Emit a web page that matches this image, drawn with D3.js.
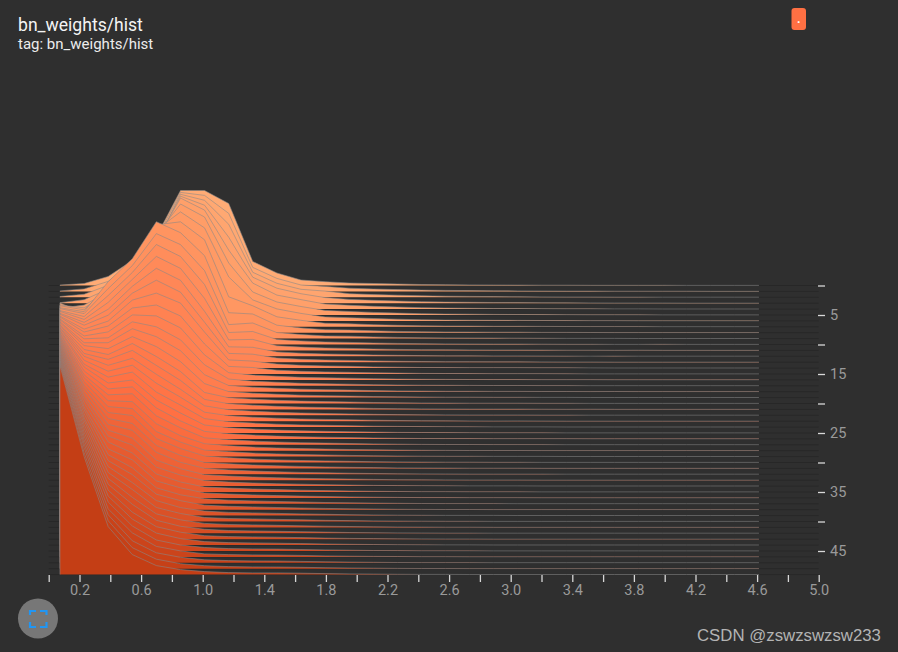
<!DOCTYPE html>
<html><head><meta charset="utf-8">
<script src="https://cdn.jsdelivr.net/npm/d3@7"></script>
<style>html,body{margin:0;padding:0;background:#2f2f2f;overflow:hidden}svg{display:block}</style>
</head><body><svg id="c" width="898" height="652"></svg>
<script>
const titleText="bn_weights/hist";
const tagText="tag: bn_weights/hist";
const markText="CSDN @zswzswzsw233";
const steps=d3.range(0,50);
const xTicks=[0,0.2,0.4,0.6,0.8,1,1.2,1.4,1.6,1.8,2,2.2,2.4,2.6,2.8,3,3.2,3.4,3.6,3.8,4,4.2,4.4,4.6,4.8,5];
const stepTicks=[0,5,10,15,20,25,30,35,40,45];
const binCenters=[.073,.230,.386,.543,.699,.856,1.012,1.169,1.325,1.482,1.638,1.795,1.951,2.108,2.264,2.421,2.577,2.734,2.890,3.047,3.203,3.360,3.516,3.673,3.829,3.986,4.142,4.299,4.455,4.612];
// counts per bin, one value per step (step 0 ... step 49)
const bin00=[.5,.5,.8,.5,1,12,16,21,25,30,34,39,43,48,52,57,61,66,70,75,79,84,88,93,97,102,106,111,115,120,124,129,133,138,142,147,151,156,160,165,169,174,178,183,187,192,196,201,205,209];
const bin01=[2,2.5,3,3.5,4,2,13,17,21,25,28,31,34,37,39,42,44,47,49,52,54,56,59,61,63,66,68,70,73,75,77,80,82,84,87,89,91,94,96,98,101,103,105,107,109,111,113,115,116,118];
const bin02=[9,10,12,14,17,20,28,40,51,50,49,48,47,47,47,48,48,48,49,49,49,50,50,50,50,50,50,50,50,50,50,50,50,50,50,50,49,49,49,49,49,49,49,49,49,49,48,48,48,48];
const bin03=[25,27,30,33,38,44,54,65,74,73,72,71,70,69,68,66,65,64,63,61,60,59,57,56,55,53,52,51,49,48,47,45,44,42,41,39,38,36,35,33,32,30,29,27,26,25,24,22,21,20];
const bin04=[49,52,54,60,69,80,91,102,111,105,100,94,88,82,75,69,64,59,55,51,47,44,41,38,35,33,31,29,27,25,24,23,22,20,19,18,17,16,15.5,15,14,13.5,13,12.5,12,11,10.5,10,9.5,9];
const bin05=[95,99,103,107,111,111,109,105,100,94,88,82,76,70,65,58,52,46,41,36,32,29,26,24,22,20,18,17,15,14.5,14,13,12,11.5,11,10,10,9,9,8,8,7.5,7,7,6.5,6,6,5.5,5,5];
const bin06=[95,96,97,98,99,98,93,87,77,68,60,52,45,40,36,30,25,21,17,14,11,10,9.5,9,8.5,8,7.5,7,7,6.5,6.5,6,6,5.5,5.5,5,5,5,4.5,4.5,4,4,4,3.5,3.5,3.5,3,3,3,3];
const bin07=[82,78,73,66,59,52,44,30,20,14,12,10.5,9.5,8.8,8.2,7.6,7.2,6.8,6.2,6,5.8,5.7,5.6,5.5,5.4,5.3,5.2,5.1,5,4.9,4.8,4.6,4.4,4.2,4,3.9,3.8,3.6,3.4,3.2,3,2.9,2.8,2.6,2.5,2.4,2.3,2.2,2.1,2];
const bin08=[24,24,25,26,26,23,21,21,18.7,15.6,13,11,9,8,7,6.5,4.8,4.6,4.5,4.4,4.3,4.2,4.1,4,4,3.9,3.8,3.7,3.6,3.5,3.4,3.4,3.3,3.2,3.1,3,3,2.9,2.8,2.7,2.6,2.5,2.4,2.3,2.2,2.1,2,1.9,1.8,1.7];
const bin09=[12.5,13,14,15,14,13,12,10,7.5,6,5,4.6,4.4,4.2,4,3.8,3.6,3.5,3.4,3.3,3.2,3.1,3,3,2.9,2.9,2.8,2.8,2.7,2.7,2.6,2.6,2.5,2.5,2.4,2.4,2.3,2.3,2.2,2.2,2.1,2.1,2,2,1.9,1.9,1.8,1.8,1.7,1.7];
const bin10=[5.5,6.4,8,9.5,9.5,8.5,7.5,6.5,4.8,4,3.6,3.3,3.1,2.9,2.8,2.7,2.6,2.5,2.5,2.4,2.4,2.3,2.3,2.2,2.2,2.2,2.1,2.1,2.1,2,2,2,1.9,1.9,1.9,1.8,1.8,1.8,1.7,1.7,1.7,1.6,1.6,1.6,1.5,1.5,1.5,1.4,1.4,1.4];
const bin11=[3.8,5,6.2,5.6,5,4.6,4,3.5,3,2.7,2.5,2.4,2.3,2.2,2.2,2.1,2.1,2,2,1.9,1.9,1.9,1.8,1.8,1.8,1.7,1.7,1.7,1.6,1.6,1.6,1.5,1.5,1.5,1.4,1.4,1.4,1.3,1.3,1.3,1.2,1.2,1.2,1.1,1.1,1.1,1,1,1,1];
const bin12=[2.5,3.2,3.6,3.8,3.8,3.5,3.2,3,2.7,2.4,2.1,2,1.9,1.8,1.8,1.7,1.7,1.6,1.6,1.5,1.5,1.5,1.4,1.4,1.4,1.3,1.3,1.3,1.2,1.2,1.2,1.1,1.1,1.1,1,1,1,1,.9,.9,.9,.9,.8,.8,.8,.8,.7,.7,.7,.7];
const bin13=[2,2.4,2.7,2.9,2.8,2.6,2.4,2.1,1.9,1.7,1.5,1.4,1.3,1.3,1.2,1.2,1.2,1.1,1.1,1.1,1,1,1,1,.9,.9,.9,.9,.9,.8,.8,.8,.8,.8,.7,.7,.7,.7,.7,.6,.6,.6,.6,.6,.6,.5,.5,.5,.5,.5];
const bin14=[1.5,1.8,2.1,2.2,2.1,1.9,1.7,1.5,1.3,1.2,1.1,1,1,.9,.9,.9,.8,.8,.8,.8,.7,.7,.7,.7,.7,.6,.6,.6,.6,.6,.6,.5,.5,.5,.5,.5,.5,.5,.4,.4,.4,.4,.4,.4,.4,.4,.4,.3,.3,.3];
const bin15=[1,1.3,1.5,1.5,1.4,1.3,1.1,1,.9,.8,.8,.7,.7,.7,.6,.6,.6,.6,.6,.6,.5,.5,.5,.5,.5,.5,.4,.4,.4,.4,.4,.4,.4,.4,.4,.3,.3,.3,.3,.3,.3,.3,.3,.3,.3,.2,.2,.2,.2,.2];
const bin16=[.8,1,1.1,1.1,1,.9,.8,.8,.7,.7,.6,.6,.5,.5,.5,.5,.5,.5,.4,.4,.4,.4,.4,.4,.4,.4,.3,.3,.3,.3,.3,.3,.3,.3,.3,.3,.3,.2,.2,.2,.2,.2,.2,.2,.2,.2,.2,.2,.2,.2];
const bin17=[.6,.8,.9,.9,.8,.8,.7,.7,.6,.6,.5,.5,.5,.5,.4,.4,.4,.4,.4,.4,.3,.3,.3,.3,.3,.3,.3,.3,.2,.3,.3,.2,.2,.2,.2,.2,.2,.2,.2,.2,.2,.2,.2,.2,.2,.2,.1,.2,.1,.1];
const bin18=[.5,.6,.7,.7,.6,.6,.6,.5,.5,.5,.4,.4,.4,.4,.4,.3,.3,.3,.3,.3,.3,.3,.3,.2,.2,.2,.2,.2,.2,.2,.2,.2,.2,.2,.2,.2,.2,.2,.1,.2,.1,.1,.1,.1,.1,.1,.1,.1,.1,.1];
const bin19=[.4,.5,.6,.6,.6,.5,.5,.5,.5,.4,.4,.4,.4,.4,.4,.3,.3,.3,.3,.3,.3,.3,.3,.3,.2,.2,.2,.2,.2,.2,.2,.2,.2,.2,.2,.2,.2,.1,.1,.1,.1,.1,.1,.1,.1,.1,.1,.1,.1,.1];
const bin20=[.3,.4,.4,.5,.4,.4,.4,.4,.3,.3,.3,.3,.3,.3,.3,.3,.2,.2,.2,.2,.2,.2,.2,.2,.2,.2,.2,.2,.1,.2,.1,.1,.2,.1,.1,.1,.1,.1,.1,.1,.1,.1,.1,.1,.1,.1,.1,.1,.1,.1];
const bin21=[.3,.3,.3,.4,.3,.3,.3,.3,.3,.2,.2,.2,.2,.2,.3,.2,.2,.2,.2,.2,.2,.1,.2,.1,.1,.1,.2,.1,.1,.1,.1,.1,.1,.1,.1,.1,.1,.1,.1,.1,.1,.1,.1,.1,.1,.1,.1,.1,.1,.1];
const bin22=[.2,.3,.3,.3,.3,.2,.2,.2,.2,.2,.2,.2,.1,.2,.2,.1,.2,.1,.1,.1,.1,.2,.1,.1,.1,.1,.1,.1,.1,.1,.1,.1,.1,.1,.1,.1,.1,.1,.1,.1,.1,.1,.1,.1,.1,.1,.1,.1,.1,.1];
const bin23=[.2,.2,.2,.2,.2,.2,.2,.2,.1,.2,.1,.1,.2,.1,.1,.1,.1,.1,.2,.1,.1,.1,.1,.1,.1,.1,.1,.1,.1,.1,.1,.1,.1,.1,.1,.1,.1,.1,.1,.1,.1,.1,.1,.1,.1,.1,.1,.1,.1,.1];
const bin24=[.2,.2,.2,.2,.2,.2,.1,.2,.1,.1,.1,.2,.1,.1,.1,.1,.1,.1,.1,.1,.1,.1,.1,.1,.1,.1,.1,.1,.1,.1,.1,.1,.1,.1,.1,.1,.1,.1,.1,.1,.1,.1,.1,.1,.1,.1,.1,.1,.1,.1];
const bin25=[.2,.2,.1,.2,.1,.1,.1,.1,.1,.1,.2,.1,.1,.1,.1,.1,.1,.1,.1,.1,.1,.1,.1,.1,.1,.1,.1,.1,.1,.1,.1,.1,.1,.1,.1,.1,.1,.1,.1,.1,.1,.1,.1,.1,.1,.1,.1,.1,.1,.1];
const bin26=[.1,.2,.1,.1,.1,.1,.1,.1,.1,.1,.1,.1,.1,.1,.1,.1,.1,.1,.1,.1,.1,.1,.1,.1,.1,.1,.1,.1,.1,.1,.1,.1,.1,.1,.1,.1,.1,.1,.1,.1,.1,.1,.1,.1,.1,.1,.1,.1,.1,.1];
const bin27=[.1,.1,.1,.1,.1,.1,.1,.1,.1,.1,.1,.1,.1,.1,.1,.1,.1,.1,.1,.1,.1,.1,.1,.1,.1,.1,.1,.1,.1,.1,.1,.1,.1,.1,.1,.1,.1,.1,.1,.1,.1,.1,.1,.1,.1,.1,.1,.1,.1,.1];
const bin28=[.1,.1,.1,.1,.1,.1,.1,.1,.1,.1,.1,.1,.1,.1,.1,.1,.1,.1,.1,.1,.1,.1,.1,.1,.1,.1,.1,.1,.1,.1,.1,.1,.1,.1,.1,.1,.1,.1,.1,.1,.1,.1,.1,.1,.1,.1,.1,.1,.1,.1];
const bin29=[.1,.1,.1,.1,.1,.1,.1,.1,.1,.1,.1,.1,.1,.1,.1,.1,.1,.1,.1,.1,.1,.1,.1,.1,.1,.1,.1,.1,.1,.1,.1,.1,.1,.1,.1,.1,.1,.1,.1,.1,.1,.1,.1,.1,.1,.1,.1,.1,.1,.1];
const bins=[bin00,bin01,bin02,bin03,bin04,bin05,bin06,bin07,bin08,bin09,bin10,bin11,bin12,bin13,bin14,bin15,bin16,bin17,bin18,bin19,bin20,bin21,bin22,bin23,bin24,bin25,bin26,bin27,bin28,bin29];

const svg=d3.select("#c");
const bg="#2f2f2f";
svg.append("rect").attr("width",898).attr("height",652).attr("fill",bg);

const x=d3.scaleLinear().domain([0,5]).range([48.7,818.7]);
const yStep=d3.scaleLinear().domain([0,49]).range([285.5,574.6]);
const h=d3.scaleLinear().domain([0,100]).range([0,100]);
const color=d3.scaleLinear().domain([0,12,25,49]).range(["#ffab75","#ff8757","#ff7043","#c43e15"]).interpolate(d3.interpolateHcl);

const plot=svg.append("g");
plot.selectAll("line.base").data(steps).join("line").attr("class","base")
  .attr("x1",x(0)).attr("x2",x(5))
  .attr("y1",d=>yStep(d)).attr("y2",d=>yStep(d))
  .attr("stroke","#000").attr("stroke-opacity",.16).attr("stroke-width",1);

const area=d3.area().x(d=>x(d.b)).y0(d=>d.base).y1(d=>d.base-h(d.v));
const outline=d3.line().x(d=>x(d.b)).y(d=>d.base-h(d.v));
const rows=s=>binCenters.map((b,k)=>({b,v:bins[k][s],base:yStep(s)}));
const stepG=plot.selectAll("g.step").data(steps).join("g").attr("class","step");
stepG.append("path").attr("d",s=>area(rows(s))).attr("fill",s=>color(s));
stepG.append("path")
  .attr("d",s=>outline([{b:binCenters[0],v:0,base:yStep(s)},...rows(s)]))
  .attr("fill","none").attr("stroke","#888").attr("stroke-opacity",.68).attr("stroke-width",.85);

function styleAxis(g){
  g.select(".domain").remove();
  g.selectAll(".tick line").attr("stroke","#d8d8d8").attr("stroke-width",1.3);
  g.selectAll(".tick text").attr("fill","#9a9a9a").attr("font-family","Roboto").attr("font-size",14.5);
}
const xAxis=d3.axisBottom(x).tickValues(xTicks).tickSize(7).tickPadding(3)
  .tickFormat((d,i)=>i%2===1?d3.format(".1f")(d):"");
svg.append("g").attr("transform","translate(0,575)").call(xAxis).call(styleAxis);
const yAxis=d3.axisRight(yStep).tickValues(stepTicks).tickSize(7).tickPadding(5)
  .tickFormat((d,i)=>i%2===1?d:"");
svg.append("g").attr("transform","translate(818,0)").call(yAxis).call(styleAxis);

svg.append("text").attr("x",18).attr("y",31).text(titleText)
  .attr("font-family","Roboto").attr("font-size",17.6).attr("font-weight",400).attr("fill","#f4f4f4");
svg.append("text").attr("x",18).attr("y",49).text(tagText)
  .attr("font-family","Roboto").attr("font-size",15).attr("fill","#ececec");

svg.append("rect").attr("x",791.5).attr("y",8).attr("width",14.5).attr("height",22).attr("rx",3).attr("fill","#ff7043");
svg.append("text").attr("x",798.7).attr("y",23).attr("text-anchor","middle").text(".")
  .attr("font-family","Roboto").attr("font-size",12).attr("font-weight",700).attr("fill","#fff");

svg.append("circle").attr("cx",38).attr("cy",618.5).attr("r",20).attr("fill","#777");
svg.append("path").attr("fill","none").attr("stroke","#2196f3").attr("stroke-width",2.2)
  .attr("d","M30,615V611H36M40,611H46.5V615M46.5,622V627H40M36,627H30V622");

svg.append("text").attr("x",697).attr("y",641).text(markText)
  .attr("font-family","Liberation Sans").attr("font-size",16.8).attr("fill","#b4b4b4");
</script></body></html>
